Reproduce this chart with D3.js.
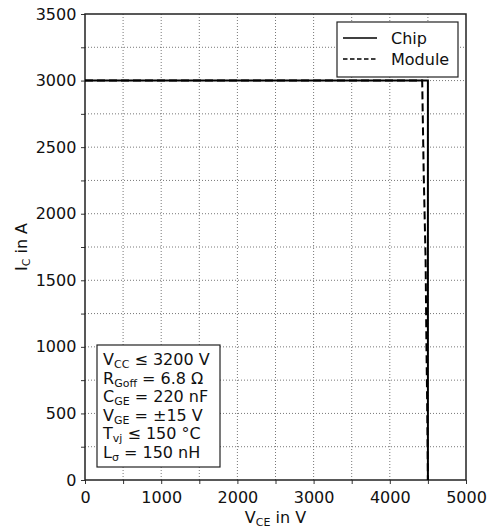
<!DOCTYPE html>
<html><head><meta charset="utf-8">
<script src="https://cdn.jsdelivr.net/npm/d3@7"></script>
<style>body{margin:0;background:#fff}svg{display:block}text{font-family:"DejaVu Sans",sans-serif;fill:#111}</style>
</head><body><div id="chart"></div>
<script>
const chipX = [0, 4500, 4500];
const chipY = [3000, 3000, 0];
const moduleX = [0, 4425, 4445, 4470, 4480, 4490, 4500];
const moduleY = [3000, 3000, 2300, 1650, 1050, 600, 0];
const xTicks = [0, 1000, 2000, 3000, 4000, 5000];
const yTicks = [0, 500, 1000, 1500, 2000, 2500, 3000, 3500];
const legendLabels = ["Chip", "Module"];
const noteLines = [
  ["V", "CC", " \u2264 3200 V"],
  ["R", "Goff", " = 6.8 \u03A9"],
  ["C", "GE", " = 220 nF"],
  ["V", "GE", " = \u00B115 V"],
  ["T", "vj", " \u2264 150 \u00B0C"],
  ["L", "\u03C3", " = 150 nH"]
];

const W = 491, H = 530;
const m = {l: 85, r: 25, t: 14, b: 50};
const FS = "16px", SFS = "11px";
const svg = d3.select("#chart").append("svg").attr("width", W).attr("height", H);
const x = d3.scaleLinear().domain([0, 5000]).range([m.l, W - m.r]);
const y = d3.scaleLinear().domain([0, 3500]).range([H - m.b, m.t]);

// grid
const gx = d3.range(500, 5000, 500), gy = d3.range(250, 3500, 250);
svg.append("g").selectAll("line").data(gx).join("line")
  .attr("x1", d => x(d)).attr("x2", d => x(d)).attr("y1", y(0)).attr("y2", y(3500))
  .attr("stroke", "#555").attr("stroke-width", 0.8).attr("stroke-dasharray", "1,2");
svg.append("g").selectAll("line").data(gy).join("line")
  .attr("y1", d => y(d)).attr("y2", d => y(d)).attr("x1", x(0)).attr("x2", x(5000))
  .attr("stroke", "#555").attr("stroke-width", 0.8).attr("stroke-dasharray", "1,2");

// axes
const xAxis = d3.axisBottom(x).tickValues(d3.range(0, 5001, 500)).tickSize(4).tickSizeOuter(0)
  .tickFormat(d => xTicks.includes(d) ? d : "");
const yAxis = d3.axisLeft(y).tickValues(d3.range(0, 3501, 250)).tickSize(4).tickSizeOuter(0)
  .tickFormat(d => yTicks.includes(d) ? d : "");
const ga = svg.append("g").attr("transform", `translate(0,${y(0)})`).call(xAxis);
const gb = svg.append("g").attr("transform", `translate(${x(0)},0)`).call(yAxis);
[ga, gb].forEach(g => {
  g.select(".domain").remove();
  g.selectAll("line").attr("stroke", "#333");
  g.selectAll("text").style("font-size", FS).attr("fill", "#111");
});
ga.selectAll("text").attr("dy", "1.0em");
gb.selectAll("text").attr("dx", "-0.1em");

svg.append("rect").attr("x", x(0)).attr("y", y(3500)).attr("width", x(5000) - x(0)).attr("height", y(0) - y(3500))
  .attr("fill", "none").attr("stroke", "#222").attr("stroke-width", 1.5);

// lines
const line = d3.line().x(d => x(d[0])).y(d => y(d[1]));
svg.append("path").datum(moduleX.map((v, i) => [v, moduleY[i]])).attr("d", line)
  .attr("fill", "none").attr("stroke", "#000").attr("stroke-width", 2).attr("stroke-dasharray", "8,4");
svg.append("path").datum(chipX.map((v, i) => [v, chipY[i]])).attr("d", line)
  .attr("fill", "none").attr("stroke", "#000").attr("stroke-width", 2);

// legend
const lg = svg.append("g");
lg.append("rect").attr("x", 337).attr("y", 22).attr("width", 121).attr("height", 55)
  .attr("fill", "#fff").attr("stroke", "#222").attr("stroke-width", 1.2);
legendLabels.forEach((lab, i) => {
  const yy = 38 + i * 21;
  lg.append("line").attr("x1", 343).attr("x2", 377).attr("y1", yy).attr("y2", yy)
    .attr("stroke", "#000").attr("stroke-width", 1.5).attr("stroke-dasharray", i ? "4.5,2.5" : null);
  lg.append("text").attr("x", 391).attr("y", yy + 6).style("font-size", FS).text(lab);
});

// note box
const ng = svg.append("g");
ng.append("rect").attr("x", 97).attr("y", 345).attr("width", 123).attr("height", 122)
  .attr("fill", "#fff").attr("stroke", "#222").attr("stroke-width", 1.2);
noteLines.forEach((l, i) => {
  const t = ng.append("text").attr("x", 103).attr("y", 365 + i * 18.6).style("font-size", FS);
  t.append("tspan").text(l[0]);
  t.append("tspan").attr("dy", 3).style("font-size", SFS).text(l[1]);
  t.append("tspan").attr("dy", -3).text(l[2]);
});

// axis titles
const xt = svg.append("text").attr("x", x(2500)).attr("y", 523).attr("text-anchor", "middle").style("font-size", FS);
xt.append("tspan").text("V");
xt.append("tspan").attr("dy", 3).style("font-size", SFS).text("CE");
xt.append("tspan").attr("dy", -3).text(" in V");
const yt = svg.append("text").attr("transform", `translate(27,${y(1750)}) rotate(-90)`).attr("text-anchor", "middle").style("font-size", FS);
yt.append("tspan").text("I");
yt.append("tspan").attr("dy", 3).style("font-size", SFS).text("C");
yt.append("tspan").attr("dy", -3).text(" in A");
</script></body></html>
